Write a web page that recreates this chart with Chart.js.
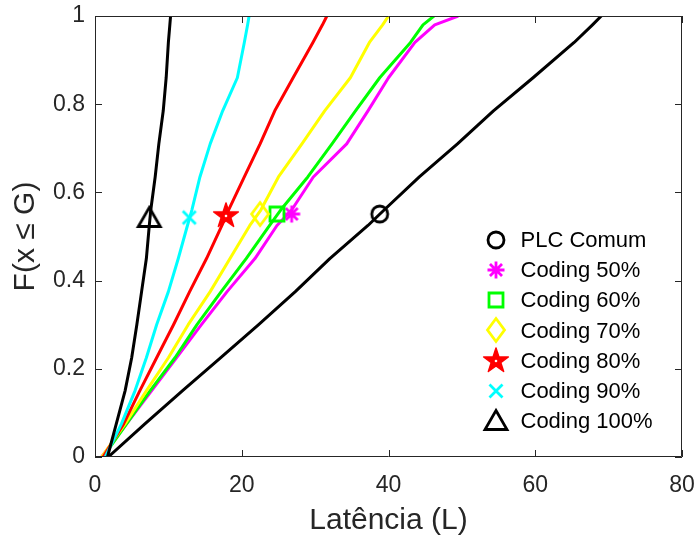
<!DOCTYPE html>
<html>
<head>
<meta charset="utf-8">
<script src="https://cdn.jsdelivr.net/npm/chart.js@4.4.1/dist/chart.umd.min.js"></script>
<style>
html,body{margin:0;padding:0;background:#fff;}
#wrap{width:697px;height:541px;position:relative;}
</style>
</head>
<body>
<div id="wrap"><canvas id="c" width="697" height="541"></canvas></div>
<script>
// ---- data ----
const cdfLevels = [0, 0.075, 0.15, 0.225, 0.3, 0.375, 0.45, 0.525, 0.56, 0.635, 0.71, 0.785, 0.86, 0.94, 0.98, 1.0];
const plcComum  = [1.8, 6.8, 11.9, 17.1, 22.3, 27.3, 32.0, 37.2, 39.4, 44.2, 49.4, 54.3, 59.7, 65.3, 67.8, 69.0];
const coding50  = [0.9, 4.3, 7.7, 11.1, 14.5, 18.0, 21.8, 24.8, 26.8, 29.75, 34.3, 37.2, 40.0, 43.6, 46.3, 49.5];
const coding60  = [1.1, 4.3, 7.5, 10.9, 13.9, 17.2, 20.6, 23.8, 25.3, 29.0, 32.3, 35.5, 38.8, 43.0, 44.7, 46.2];
const coding70  = [0.9, 4.1, 7.0, 10.0, 12.7, 15.7, 18.4, 21.1, 22.6, 25.0, 28.2, 31.3, 34.8, 37.4, 39.2, 40.0];
const coding80  = [1.1, 3.9, 6.1, 8.4, 10.7, 12.9, 15.2, 17.3, 18.2, 20.35, 22.5, 24.5, 27.0, 29.7, 31.0, 31.6];
const coding90  = [1.4, 3.6, 5.45, 7.0, 8.4, 10.0, 11.35, 12.6, 13.2, 14.3, 15.7, 17.4, 19.4, 20.35, 20.8, 21.0];
const coding100 = [1.7, 2.9, 4.1, 5.0, 5.7, 6.35, 7.0, 7.4, 7.6, 8.2, 8.7, 9.3, 9.7, 10.0, 10.2, 10.3];

const seriesLabels = ['PLC Comum', 'Coding 50%', 'Coding 60%', 'Coding 70%', 'Coding 80%', 'Coding 90%', 'Coding 100%'];
const seriesX = [plcComum, coding50, coding60, coding70, coding80, coding90, coding100];
const markerX = [38.8, 26.8, 24.8, 22.5, 17.85, 12.85, 7.4];
const markerY = [0.551, 0.551, 0.551, 0.551, 0.549, 0.543, 0.542];

const xTicks = [0, 20, 40, 60, 80];
const yTicks = [0, 0.2, 0.4, 0.6, 0.8, 1];
const yTickLabels = ['0', '0.2', '0.4', '0.6', '0.8', '1'];

// ---- styles ----
const seriesColors = ['#000000', '#ff00ff', '#00ff00', '#ffff00', '#ff0000', '#00ffff', '#000000'];
const markerKinds = ['circle', 'asterisk', 'square', 'diamond', 'pentagram', 'x', 'triangle'];
const FONT = '"Liberation Sans", Arial, Helvetica, sans-serif';
const AXIS_COLOR = '#262626';

function makeMarker(kind, color) {
  const s = 36, c = document.createElement('canvas');
  c.width = s; c.height = s;
  const g = c.getContext('2d');
  const m = s / 2;
  g.strokeStyle = color; g.fillStyle = color; g.lineWidth = 2.8;
  g.lineJoin = 'miter'; g.lineCap = 'butt';
  g.beginPath();
  switch (kind) {
    case 'circle':
      g.arc(m, m, 8, 0, 2 * Math.PI); g.stroke(); break;
    case 'asterisk':
      for (let k = 0; k < 4; k++) {
        const a = k * Math.PI / 4;
        g.moveTo(m + 8.5 * Math.cos(a), m + 8.5 * Math.sin(a));
        g.lineTo(m - 8.5 * Math.cos(a), m - 8.5 * Math.sin(a));
      }
      g.stroke(); break;
    case 'square':
      g.rect(m - 7, m - 7, 14, 14); g.stroke(); break;
    case 'diamond':
      g.moveTo(m, m - 11.5); g.lineTo(m + 8.5, m); g.lineTo(m, m + 11.5); g.lineTo(m - 8.5, m);
      g.closePath(); g.stroke(); break;
    case 'pentagram': {
      const R = 13, r = R * 0.382;
      for (let k = 0; k < 10; k++) {
        const rad = (k % 2 === 0) ? R : r;
        const a = -Math.PI / 2 + k * Math.PI / 5;
        const px = m + rad * Math.cos(a), py = m + 1 + rad * Math.sin(a);
        if (k === 0) g.moveTo(px, py); else g.lineTo(px, py);
      }
      g.closePath(); g.fill(); g.lineWidth = 1.5; g.lineJoin = 'round'; g.stroke();
      g.beginPath(); g.fillStyle = '#ffffff'; g.arc(m, m + 1, 1.3, 0, 2 * Math.PI); g.fill();
      break;
    }
    case 'x':
      g.moveTo(m - 6.5, m - 6.5); g.lineTo(m + 6.5, m + 6.5);
      g.moveTo(m + 6.5, m - 6.5); g.lineTo(m - 6.5, m + 6.5);
      g.stroke(); break;
    case 'triangle':
      g.moveTo(m, m - 10.5); g.lineTo(m + 11, m + 8.5); g.lineTo(m - 11, m + 8.5);
      g.closePath(); g.stroke(); break;
  }
  return c;
}
const markerImgs = markerKinds.map((k, i) => makeMarker(k, seriesColors[i]));

const datasets = [];
seriesX.forEach((xs, i) => {
  datasets.push({
    label: seriesLabels[i] + ' line',
    data: xs.map((x, j) => ({x: x, y: cdfLevels[j]})),
    borderColor: seriesColors[i],
    borderWidth: 3,
    pointRadius: 0,
    tension: 0,
    borderJoinStyle: 'round',
    fill: false,
    order: 20 - i
  });
});
seriesX.forEach((xs, i) => {
  datasets.push({
    label: seriesLabels[i],
    data: [{x: markerX[i], y: markerY[i]}],
    showLine: false,
    pointStyle: markerImgs[i],
    pointRadius: 8,
    pointHoverRadius: 8,
    borderColor: seriesColors[i],
    backgroundColor: seriesColors[i],
    order: 10 - i
  });
});

const boxTicksPlugin = {
  id: 'boxTicks',
  afterDatasetsDraw(chart) {
    const {ctx, chartArea: a, scales} = chart;
    ctx.save();
    ctx.strokeStyle = AXIS_COLOR;
    ctx.lineWidth = 1;
    ctx.beginPath();
    ctx.rect(Math.round(a.left) + 0.5, Math.round(a.top) + 0.5,
             Math.round(a.right) - Math.round(a.left) - 1, Math.round(a.bottom) - Math.round(a.top) - 1);
    ctx.stroke();
    const L = 7;
    ctx.beginPath();
    scales.x.ticks.forEach(t => {
      const px = Math.round(scales.x.getPixelForValue(t.value)) + 0.5;
      ctx.moveTo(px, a.bottom); ctx.lineTo(px, a.bottom - L);
      ctx.moveTo(px, a.top); ctx.lineTo(px, a.top + L);
    });
    scales.y.ticks.forEach(t => {
      const py = Math.round(scales.y.getPixelForValue(t.value)) + 0.5;
      ctx.moveTo(a.left, py); ctx.lineTo(a.left + L, py);
      ctx.moveTo(a.right, py); ctx.lineTo(a.right - L, py);
    });
    ctx.stroke();
    ctx.restore();
  }
};

const legendPlugin = {
  id: 'insideLegend',
  afterDraw(chart) {
    const {ctx, chartArea: a} = chart;
    const mx = a.right - 186.5, tx = a.right - 161.5;
    const y0 = a.top + 223.5, dy = 30.2;
    ctx.save();
    ctx.font = '22px ' + FONT;
    ctx.fillStyle = '#000000';
    ctx.textBaseline = 'middle';
    ctx.textAlign = 'left';
    seriesLabels.forEach((lab, i) => {
      const y = y0 + i * dy;
      const img = markerImgs[i];
      ctx.drawImage(img, Math.round(mx - img.width / 2), Math.round(y - img.height / 2));
      ctx.fillText(lab, tx, y + 1.5);
    });
    ctx.restore();
  }
};

new Chart(document.getElementById('c'), {
  type: 'line',
  data: {datasets: datasets},
  plugins: [boxTicksPlugin, legendPlugin],
  options: {
    responsive: false,
    animation: false,
    events: [],
    layout: {padding: {left: 0, top: 16, right: 15, bottom: 0}},
    plugins: {legend: {display: false}, tooltip: {enabled: false}, title: {display: false}},
    scales: {
      x: {
        type: 'linear',
        min: 0, max: 80,
        afterBuildTicks: s => { s.ticks = xTicks.map(v => ({value: v})); },
        afterFit: s => { s.height = 84; s.paddingLeft = 0; s.paddingRight = 0; s.paddingTop = 0; s.paddingBottom = 0; },
        grid: {display: false, drawTicks: false},
        border: {display: false},
        ticks: {color: AXIS_COLOR, padding: 15, font: {family: FONT, size: 23}, maxRotation: 0,
                callback: v => String(v)},
        title: {display: true, text: 'Latência (L)', color: AXIS_COLOR,
                font: {family: FONT, size: 30}, padding: {top: 0, bottom: 2}}
      },
      y: {
        type: 'linear',
        min: 0, max: 1,
        afterBuildTicks: s => { s.ticks = yTicks.map(v => ({value: v})); },
        afterFit: s => { s.width = 95; s.paddingLeft = 0; s.paddingRight = 0; s.paddingTop = 0; s.paddingBottom = 0; },
        grid: {display: false, drawTicks: false},
        border: {display: false},
        ticks: {color: AXIS_COLOR, padding: 10, font: {family: FONT, size: 23},
                callback: (v, i) => yTickLabels[yTicks.indexOf(v)] ?? String(v)},
        title: {display: true, text: 'F(x ≤ G)', color: AXIS_COLOR,
                font: {family: FONT, size: 30}, padding: {top: 8, bottom: 0}}
      }
    }
  }
});
</script>
</body>
</html>
